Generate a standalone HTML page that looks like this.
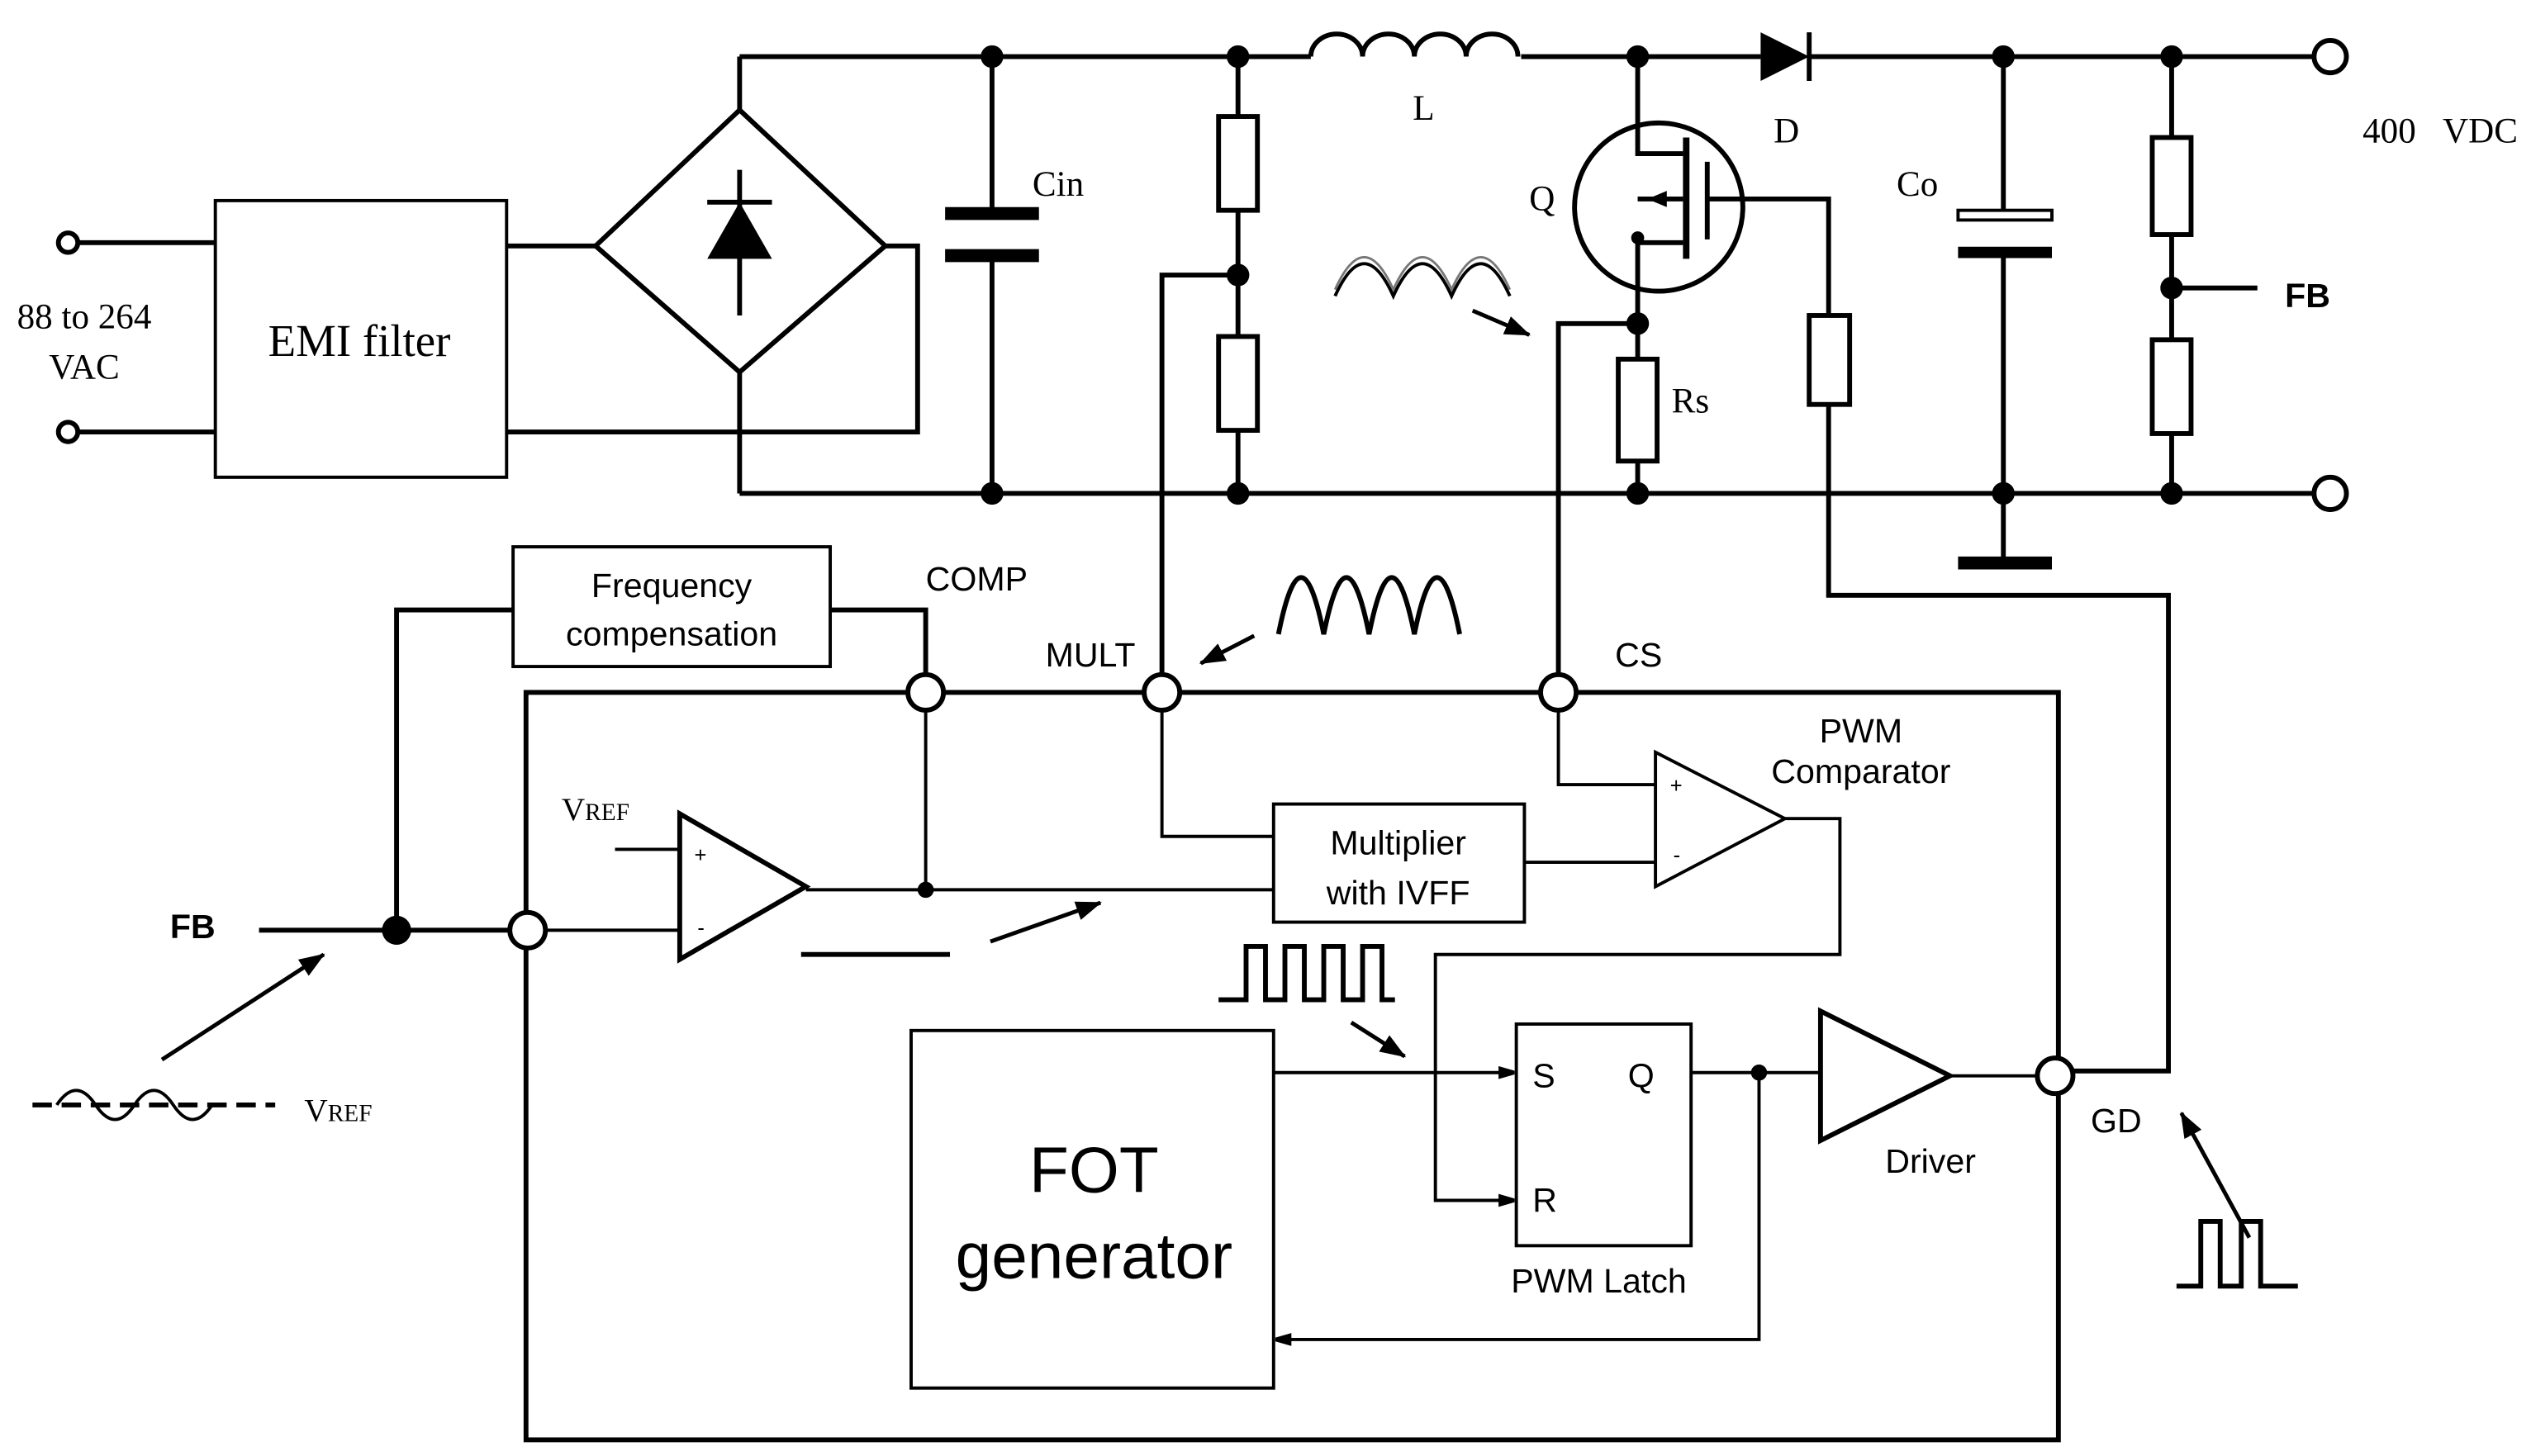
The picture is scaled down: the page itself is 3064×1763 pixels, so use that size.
<!DOCTYPE html>
<html><head><meta charset="utf-8"><style>
html,body{margin:0;padding:0;background:#fff;}
svg{display:block;}
.s{font-family:"Liberation Serif",serif;}
.a{font-family:"Liberation Sans",sans-serif;}
</style></head><body>
<svg width="3064" height="1763" viewBox="0 0 1564 900" xmlns="http://www.w3.org/2000/svg">
<defs><marker id="ar" markerWidth="10" markerHeight="8" refX="9" refY="4" orient="auto" markerUnits="userSpaceOnUse"><path d="M0,0 L14,4 L0,8 z" fill="#000"/></marker>
<marker id="ar2" markerWidth="16" markerHeight="12" refX="15" refY="6" orient="auto" markerUnits="userSpaceOnUse"><path d="M0,0 L16,6 L0,12 z" fill="#000"/></marker></defs>
<g stroke="#000" stroke-width="3" fill="none">
<!-- rails -->
<line x1="457" y1="35" x2="810" y2="35"/><line x1="940" y1="35" x2="1088" y2="35"/><line x1="1118" y1="35" x2="1430" y2="35"/>
<line x1="457" y1="305" x2="1430" y2="305"/>
<circle cx="1440" cy="35" r="10" fill="#fff"/><circle cx="1440" cy="305" r="10" fill="#fff"/>
<!-- input -->
<circle cx="42" cy="150" r="6" fill="#fff"/><circle cx="42" cy="267" r="6" fill="#fff"/>
<line x1="48" y1="150" x2="133" y2="150"/><line x1="48" y1="267" x2="133" y2="267"/>
<rect x="133" y="124" width="180" height="171" stroke-width="2"/>
<line x1="313" y1="152" x2="368" y2="152"/><polyline points="313,267 567,267 567,152 547,152"/>
<polygon points="457,68 547,152 457,230 368,152"/>
<line x1="457" y1="35" x2="457" y2="68"/><line x1="457" y1="230" x2="457" y2="305"/>
<line x1="457" y1="105" x2="457" y2="195"/><line x1="437" y1="125" x2="477" y2="125"/>
<!-- Cin -->
<line x1="613" y1="35" x2="613" y2="130"/><line x1="613" y1="160" x2="613" y2="305"/>
<line x1="584" y1="132" x2="642" y2="132" stroke-width="8"/><line x1="584" y1="158" x2="642" y2="158" stroke-width="8"/>
<!-- divider -->
<line x1="765" y1="35" x2="765" y2="305"/>
<rect x="753" y="72" width="24" height="58" fill="#fff"/><rect x="753" y="208" width="24" height="58" fill="#fff"/>
<polyline points="765,170 718,170 718,417"/>
<!-- inductor -->
<path d="M810,35 a16,14 0 0 1 32,0 a16,14 0 0 1 32,0 a16,14 0 0 1 32,0 a16,14 0 0 1 32,0"/>
<!-- mosfet -->
<circle cx="1025" cy="128" r="52"/>
<polyline points="1012,35 1012,95 1040,95"/>
<polyline points="1040,123 1012,123"/><polyline points="1040,150 1012,150 1012,222"/>
<line x1="1042" y1="85" x2="1042" y2="160" stroke-width="4"/><line x1="1055" y1="100" x2="1055" y2="148"/>
<polyline points="1055,123 1130,123 1130,195"/>
<rect x="1118" y="195" width="25" height="55" fill="#fff"/>
<polyline points="1130,250 1130,368 1340,368 1340,662 1281,662"/>
<rect x="1000" y="222" width="24" height="63" fill="#fff"/><line x1="1012" y1="285" x2="1012" y2="305"/>
<polyline points="1012,200 963,200 963,417"/>
<!-- Co -->
<line x1="1238" y1="35" x2="1238" y2="130"/><line x1="1238" y1="158" x2="1238" y2="348"/>
<rect x="1210" y="130" width="58" height="6" stroke-width="2"/><line x1="1210" y1="156" x2="1268" y2="156" stroke-width="7"/>
<line x1="1210" y1="348" x2="1268" y2="348" stroke-width="8"/>
<!-- out divider -->
<line x1="1342" y1="35" x2="1342" y2="305"/>
<rect x="1330" y="85" width="24" height="60" fill="#fff"/><rect x="1330" y="210" width="24" height="58" fill="#fff"/>
<line x1="1342" y1="178" x2="1395" y2="178"/>
<!-- waveform top -->
<path d="M825,183 q18,-40 36,0 q18,-40 36,0 q18,-40 36,0" stroke-width="2"/>
<path d="M825,179 q18,-40 36,0 q18,-40 36,0 q18,-40 36,0" stroke-width="1.5" stroke="#777"/>
<line x1="910" y1="192" x2="945" y2="207" stroke-width="2.5" marker-end="url(#ar2)"/>
<!-- IC -->
<rect x="325" y="428" width="947" height="462"/>
<polyline points="245,575 245,377 317,377"/><rect x="317" y="338" width="196" height="74" stroke-width="2"/>
<polyline points="513,377 572,377 572,417"/>
<line x1="160" y1="575" x2="315" y2="575"/>
<line x1="572" y1="439" x2="572" y2="550" stroke-width="2"/>
<polygon points="420,503 420,593 498,548"/>
<line x1="380" y1="525" x2="420" y2="525" stroke-width="2"/><line x1="337" y1="575" x2="420" y2="575" stroke-width="2"/>
<line x1="498" y1="550" x2="787" y2="550" stroke-width="2"/>
<rect x="787" y="497" width="155" height="73" stroke-width="2"/>
<polyline points="718,439 718,517 787,517" stroke-width="2"/>
<polygon points="1023,465 1023,548 1103,506" stroke-width="2"/>
<polyline points="963,439 963,485 1023,485" stroke-width="2"/>
<line x1="942" y1="533" x2="1023" y2="533" stroke-width="2"/>
<polyline points="1103,506 1137,506 1137,590 887,590 887,742 935,742" stroke-width="2" marker-end="url(#ar)"/>
<rect x="937" y="633" width="108" height="137" stroke-width="2"/>
<rect x="563" y="637" width="224" height="221" stroke-width="2"/>
<line x1="787" y1="663" x2="935" y2="663" stroke-width="2" marker-end="url(#ar)"/>
<line x1="1045" y1="663" x2="1125" y2="663" stroke-width="2"/>
<polygon points="1125,625 1125,705 1205,665"/>
<polyline points="1087,663 1087,828 789,828" stroke-width="2" marker-end="url(#ar)"/>
<line x1="1205" y1="665" x2="1259" y2="665" stroke-width="2"/>
<!-- decorations -->
<path d="M790,392 q14,-70 28,0 q14,-70 28,0 q14,-70 28,0 q14,-70 28,0" />
<line x1="775" y1="393" x2="742" y2="410" stroke-width="2.5" marker-end="url(#ar2)"/>
<line x1="495" y1="590" x2="587" y2="590"/>
<line x1="612" y1="582" x2="680" y2="558" stroke-width="2.5" marker-end="url(#ar2)"/>
<polyline points="753,618 770,618 770,585 782,585 782,618 794,618 794,585 806,585 806,618 818,618 818,585 830,585 830,618 842,618 842,585 854,585 854,618 862,618"/>
<line x1="835" y1="632" x2="868" y2="653" stroke-width="2.5" marker-end="url(#ar2)"/>
<line x1="20" y1="683" x2="170" y2="683" stroke-dasharray="12,6"/>
<path d="M35,683 q12,-18 24,0 t24,0 t24,0 t24,0" stroke-width="2"/>
<line x1="100" y1="655" x2="200" y2="590" stroke-width="2.5" marker-end="url(#ar2)"/>
<polyline points="1345,795 1360,795 1360,755 1372,755 1372,795 1385,795 1385,755 1397,755 1397,795 1420,795"/>
<line x1="1390" y1="765" x2="1348" y2="688" stroke-width="2.5" marker-end="url(#ar2)"/>
<!-- pins -->
<circle cx="572" cy="428" r="11" fill="#fff"/><circle cx="718" cy="428" r="11" fill="#fff"/>
<circle cx="963" cy="428" r="11" fill="#fff"/><circle cx="326" cy="575" r="11" fill="#fff"/>
<circle cx="1270" cy="665" r="11" fill="#fff"/>
</g>
<g fill="#000">
<circle cx="613" cy="35" r="7"/><circle cx="613" cy="305" r="7"/><circle cx="765" cy="35" r="7"/><circle cx="765" cy="170" r="7"/><circle cx="765" cy="305" r="7"/>
<circle cx="1012" cy="35" r="7"/><circle cx="1012" cy="200" r="7"/><circle cx="1012" cy="305" r="7"/><circle cx="1238" cy="35" r="7"/><circle cx="1238" cy="305" r="7"/>
<circle cx="1342" cy="35" r="7"/><circle cx="1342" cy="178" r="7"/><circle cx="1342" cy="305" r="7"/>
<circle cx="1012" cy="147" r="4"/><circle cx="245" cy="575" r="9"/><circle cx="572" cy="550" r="5"/><circle cx="1087" cy="663" r="5"/>
<polygon points="437,160 477,160 457,125"/><polygon points="1088,20 1088,50 1118,35"/>
<line x1="1118" y1="20" x2="1118" y2="50" stroke="#000" stroke-width="3"/>
<polygon points="1030,118 1018,123 1030,128"/>
</g>
<g class="s" font-size="22" fill="#000">
<text x="52" y="203" text-anchor="middle">88 to 264</text><text x="52" y="234" text-anchor="middle">VAC</text>
<text x="222" y="220" text-anchor="middle" font-size="28">EMI filter</text>
<text x="638" y="121">Cin</text><text x="873" y="74">L</text><text x="945" y="130">Q</text><text x="1096" y="88">D</text>
<text x="1172" y="121">Co</text><text x="1033" y="255">Rs</text><text x="1460" y="88">400&#160;&#160;&#160;VDC</text>
<text x="347" y="507" font-size="20">V<tspan font-size="15">REF</tspan></text>
<text x="188" y="693" font-size="20">V<tspan font-size="15">REF</tspan></text>
</g>
<g class="a" font-size="21" fill="#000">
<text x="415" y="369" text-anchor="middle">Frequency</text><text x="415" y="399" text-anchor="middle">compensation</text>
<text x="572" y="365">COMP</text><text x="646" y="412">MULT</text><text x="998" y="412">CS</text>
<text x="1150" y="459" text-anchor="middle">PWM</text><text x="1150" y="484" text-anchor="middle">Comparator</text>
<text x="864" y="528" text-anchor="middle">Multiplier</text><text x="864" y="559" text-anchor="middle">with IVFF</text>
<text x="947" y="672">S</text><text x="1006" y="672">Q</text><text x="947" y="749">R</text>
<text x="988" y="799" text-anchor="middle">PWM Latch</text><text x="1193" y="725" text-anchor="middle">Driver</text>
<text x="1292" y="700">GD</text>
<text x="676" y="737" text-anchor="middle" font-size="40">FOT</text><text x="676" y="790" text-anchor="middle" font-size="40">generator</text>
<text x="105" y="580" font-weight="bold">FB</text><text x="1412" y="190" font-weight="bold">FB</text>
<text x="429" y="533" font-size="13">+</text><text x="431" y="578" font-size="13">-</text>
<text x="1032" y="490" font-size="13">+</text><text x="1034" y="533" font-size="13">-</text>
</g>
</svg>
</body></html>
